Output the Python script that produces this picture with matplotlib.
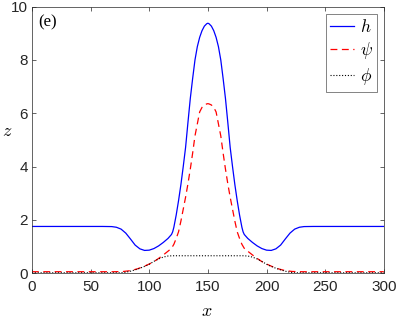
import matplotlib
matplotlib.use("Agg")
import matplotlib.pyplot as plt

# --- data (panel e) ---
x_h = [0, 20, 40, 60, 68, 72, 76, 80, 84, 88, 92, 96, 100, 104, 108, 112, 116, 119,
       120, 121, 123, 125, 127, 129, 131, 133, 135, 137, 139, 141, 143, 145, 147, 149, 150,
       151, 153, 155, 157, 159, 161, 163, 165, 167, 169, 171, 173, 175, 177, 179, 180,
       181, 184, 188, 192, 196, 200, 204, 208, 212, 216, 220, 224, 228, 232, 240, 260, 280, 300]
h = [1.75, 1.75, 1.75, 1.75, 1.745, 1.72, 1.65, 1.50, 1.28, 1.05, 0.91, 0.85, 0.86, 0.92, 1.02, 1.15, 1.30, 1.45,
     1.55, 1.72, 2.18, 2.72, 3.32, 4.00, 4.72, 5.65, 6.55, 7.30, 8.00, 8.50, 8.85, 9.10, 9.27, 9.36, 9.38,
     9.36, 9.27, 9.10, 8.85, 8.50, 8.00, 7.30, 6.55, 5.65, 4.72, 4.00, 3.32, 2.72, 2.18, 1.72, 1.55,
     1.45, 1.30, 1.15, 1.02, 0.92, 0.86, 0.85, 0.91, 1.05, 1.28, 1.50, 1.65, 1.72, 1.745, 1.75, 1.75, 1.75, 1.75]

x_psi = [0, 40, 70, 78, 84, 90, 96, 100, 104, 108, 112, 116, 119, 121, 123, 125, 127, 129,
         131, 133, 135, 137, 139, 141, 143, 145, 147, 149, 150,
         151, 153, 155, 157, 159, 161, 163, 165, 167, 169, 171, 173, 175, 177, 179,
         181, 184, 188, 192, 196, 200, 204, 210, 216, 222, 230, 260, 300]
psi = [0.05, 0.05, 0.05, 0.06, 0.09, 0.16, 0.26, 0.34, 0.43, 0.55, 0.68, 0.82, 0.93, 1.08, 1.30, 1.55, 1.95, 2.40,
       2.85, 3.35, 3.90, 4.50, 5.15, 5.60, 6.05, 6.22, 6.31, 6.35, 6.36,
       6.35, 6.31, 6.22, 6.05, 5.60, 5.15, 4.50, 3.90, 3.35, 2.85, 2.40, 1.95, 1.55, 1.30, 1.08,
       0.93, 0.82, 0.68, 0.55, 0.43, 0.34, 0.26, 0.16, 0.09, 0.06, 0.05, 0.05, 0.05]

x_phi = [0, 40, 76, 80, 84, 88, 92, 96, 100, 104, 108, 112, 116, 120, 150,
         180, 184, 188, 192, 196, 200, 204, 208, 212, 216, 220, 224, 260, 300]
phi = [0.01, 0.01, 0.01, 0.03, 0.07, 0.12, 0.18, 0.25, 0.33, 0.44, 0.53, 0.60, 0.64, 0.65, 0.65,
       0.65, 0.64, 0.60, 0.53, 0.44, 0.33, 0.25, 0.18, 0.12, 0.07, 0.03, 0.01, 0.01, 0.01]

xticks = [0, 50, 100, 150, 200, 250, 300]
yticks = [0, 2, 4, 6, 8, 10]

plt.rcParams["font.family"] = ["Liberation Sans", "DejaVu Sans"]
plt.rcParams["mathtext.fontset"] = "cm"

fig = plt.figure(figsize=(3.99, 3.19), dpi=100)
ax = fig.add_axes([0.080, 0.144, 0.882, 0.835])

ax.plot(x_h, h, color="#0000ff", lw=0.9, label=r"$h$")
ax.plot(x_psi, psi, color="#ff0000", lw=0.9, dashes=(5.5, 3.6), label=r"$\psi$")
ax.plot(x_phi, phi, color="black", lw=0.8, dashes=(1, 1.6), label=r"$\phi$")

ax.set_xlim(0, 300)
ax.set_ylim(0, 10)
ax.set_xticks(xticks)
ax.set_yticks(yticks)
ax.tick_params(direction="in", top=True, right=True, length=3, width=0.5,
               color="#262626", labelsize=11, labelcolor="#262626")
ax.tick_params(axis="x", pad=5)
ax.tick_params(axis="y", pad=3)
for s in ax.spines.values():
    s.set_linewidth(0.5)
    s.set_color("#262626")

ax.set_xlabel(r"$x$", fontsize=13, va="center")
ax.set_ylabel(r"$z$", fontsize=13, rotation=0, va="center", ha="center")
ax.xaxis.set_label_coords(0.496, -0.145)
ax.yaxis.set_label_coords(-0.071, 0.53)

ax.text(5, 9.4, "(e)", family=["Liberation Serif"], fontsize=12, va="center", ha="left")

leg = ax.legend(loc="upper right", fontsize=12.5, frameon=True, fancybox=False,
                handlelength=1.4, handletextpad=0.3, borderaxespad=0.4,
                borderpad=0.25, labelspacing=0.3)
leg.get_frame().set_edgecolor("#262626")
leg.get_frame().set_linewidth(0.5)

fig.savefig("out.png", dpi=100)
